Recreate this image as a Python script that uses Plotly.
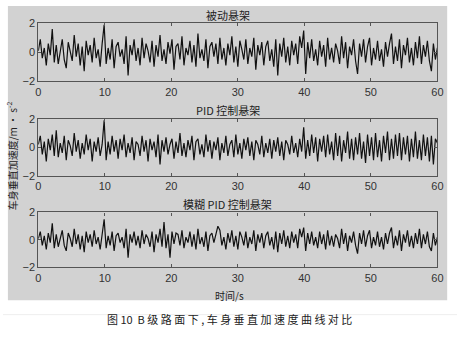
import plotly.graph_objects as go

t_step = 0.3
passive = [0.1, 0.9, -0.4, 0.3, -0.9, 0.6, -0.2, 1.6, -0.7, 0.5,
           -0.8, 0.2, 0.9, -0.5, -1.1, 0.7, 0.1, -0.6, 1.2, -0.3,
           0.6, -0.9, 0.4, -1.3, 0.8, -0.2, 0.5, -0.7, 1.0, -0.4,
           0.2, -1.0, 0.6, 1.9, -0.8, 0.3, -0.5, 0.9, -1.1, 0.4,
           0.7, -0.3, 0.2, -0.8, 1.1, -1.6, 0.5, -0.2, 0.9, -0.6,
           0.3, -0.9, 1.0, -0.4, 0.6, 0.1, -0.7, 0.8, -1.0, 0.5,
           -0.3, 1.2, -0.6, 0.2, -0.8, 0.7, -0.1, 0.9, -1.2, 0.4,
           0.6, -0.5, 1.1, -0.9, 0.3, -0.2, 0.8, -0.7, 0.5, -1.0,
           1.3, -0.4, 0.2, -0.6, 0.9, -1.1, 0.4, 0.7, -0.3, 0.6,
           -0.8, 1.0, -0.5, 0.3, -0.9, 0.6, -0.2, 1.1, -0.7, 0.4,
           -1.0, 0.8, 0.2, -0.5, 0.9, -0.8, 0.3, -0.3, 1.0, -1.2,
           0.5, -0.2, 0.7, -0.9, 0.4, 0.8, -0.6, 0.2, -1.0, 0.9,
           -1.6, 0.6, -0.3, 1.0, -0.7, 0.4, -0.9, 0.8, -0.2, 0.6,
           -0.8, 1.1, 0.3, 1.5, -1.5, 0.7, -0.4, 0.9, -0.6, 0.2,
           -0.9, 0.8, -0.3, 0.5, -1.0, 1.0, -0.5, 0.3, -0.7, 0.6,
           0.1, -0.8, 1.1, -0.4, 0.7, -1.1, 0.4, -0.2, 0.9, -0.6,
           -1.5, 0.6, -0.3, 0.9, -0.7, 0.4, 1.0, -0.9, 0.3, -0.5,
           0.8, -0.6, 0.2, -1.0, 0.7, -0.3, 0.6, 1.3, -0.8, 0.4,
           -0.6, 0.9, -1.1, 0.5, -0.2, 1.0, -0.7, 0.3, -0.9, 0.7,
           -0.4, 1.1, -0.8, 0.5, -0.3, 0.8, -0.6, -1.3, 0.6, -0.5,
           0.3]
pid = [0.2, 0.8, -0.5, 0.4, -1.0, 0.6, -0.2, 0.9, -0.6, 1.2,
       -0.7, 0.3, -0.4, 0.8, -0.9, 0.5, 0.1, -0.6, 1.0, -0.3,
       0.5, -0.8, 0.3, -0.5, 0.9, -0.2, 0.6, -1.0, 0.4, -0.3,
       0.7, -0.6, 0.2, 1.9, -0.9, 0.4, -0.5, 0.8, -0.3, 0.5,
       -0.8, 0.6, -0.2, 0.9, -0.7, 0.3, -0.4, 0.7, -0.9, 0.4,
       0.2, -0.6, 0.8, -0.3, 0.5, -1.0, 0.6, -0.2, 0.4, -0.7,
       0.9, -1.2, 0.5, -0.3, 0.7, -0.5, 0.2, 0.6, -0.8, 0.4,
       -0.4, 1.0, -0.6, 0.3, -0.7, 0.5, -0.2, 0.8, -0.9, 0.4,
       0.6, -0.5, 0.2, -0.7, 0.9, -0.3, 0.5, -0.8, 0.4, -0.2,
       0.7, -0.9, 0.3, -0.4, 0.8, -0.6, 0.2, 0.5, -0.7, 0.9,
       -0.5, 0.3, -0.8, 0.6, -0.2, 0.7, -0.6, 0.4, -0.9, 0.5,
       0.2, -0.5, 0.8, -0.7, 0.3, -0.4, 0.6, -0.8, 0.5, -0.3,
       0.7, -0.6, 0.4, -0.9, 0.5, 0.2, -0.5, 0.8, -0.4, 0.3,
       -0.7, 0.6, -0.3, 1.4, -0.8, 0.5, -0.6, 0.9, -0.4, 0.7,
       -1.0, 0.6, -0.3, 0.8, -0.7, 0.9, -0.5, 0.4, -0.9, 1.0,
       -0.6, 0.8, -1.0, 0.5, -0.4, 1.1, -0.8, 0.6, -0.9, 0.7,
       -0.5, 1.0, -0.8, 0.4, -1.1, 0.9, -0.6, 0.7, -0.9, 1.0,
       -0.7, 0.5, -1.0, 0.8, -0.4, 1.1, -0.9, 0.6, -0.8, 0.9,
       -0.6, 1.0, -0.9, 0.7, -0.5, 0.8, -1.0, 0.6, -0.7, 1.1,
       -0.8, 0.5, -0.9, 0.9, -0.6, 0.7, -1.0, 0.8, -1.2, 0.6,
       0.3]
fuzzy = [0.1, 0.6, -0.4, 0.3, -0.7, 0.5, -0.2, 1.2, -0.6, 0.4,
         -0.5, 0.2, 0.7, -0.4, -0.8, 0.5, 0.1, -0.5, 0.8, -0.3,
         0.4, -0.7, 0.3, -0.9, 0.6, -0.2, 0.4, -0.5, 0.7, -0.3,
         0.2, -0.7, 0.4, 1.5, -0.6, 0.3, -0.4, 0.6, -0.8, 0.3,
         0.5, -0.2, 0.2, -0.6, 0.8, -1.3, 0.4, -0.2, 0.6, -0.4,
         0.3, -0.6, 0.7, -0.3, 0.4, 0.1, -0.5, 0.6, -0.9, 0.4,
         -0.2, 0.8, -0.5, 1.3, -0.6, 0.4, -1.3, 0.6, -0.3, 0.5,
         0.4, -0.4, 0.7, -0.6, 0.2, -0.2, 0.6, -0.5, 0.4, -0.7,
         0.8, -0.3, 0.2, -0.5, 0.6, -0.8, 0.3, 0.5, -0.2, 0.4,
         1.0, 0.7, -0.4, 0.2, -0.7, 0.5, -0.2, 0.7, -0.5, 0.3,
         -0.7, 0.6, 0.2, -0.4, 0.6, -0.6, 0.2, -0.3, 0.7, -0.8,
         0.4, -0.2, 0.5, -0.6, 0.3, 0.6, -0.4, 0.2, -0.7, 0.6,
         -0.9, 0.5, -0.3, 0.7, -0.5, 0.3, -0.6, 0.6, -0.2, 0.4,
         -0.6, 0.8, 0.2, 0.9, -0.8, 0.5, -0.3, 0.6, -0.4, 0.2,
         -0.6, 0.6, -0.3, 0.4, -0.7, 0.7, -0.4, 0.3, -0.5, 0.4,
         0.1, -0.6, 0.8, -0.3, 0.5, -0.8, 0.3, -0.2, 0.6, -0.4,
         -1.0, 0.5, -0.3, 0.7, -0.5, 0.3, 0.7, -0.6, 0.2, -0.4,
         0.6, -0.5, 0.2, -0.7, 0.5, -0.3, 0.5, 0.9, -0.6, 0.3,
         -0.4, 0.7, -0.8, 0.4, -0.2, 0.7, -0.5, 0.3, -0.6, 0.5,
         -0.3, 0.8, -0.6, 0.4, -0.3, 0.6, -0.5, -0.8, 0.5, -0.4,
         0.2]
titles = ["被动悬架", "PID 控制悬架", "模糊 PID 控制悬架"]
x_ticks = [0, 10, 20, 30, 40, 50, 60]
y_ticks = [-2, 0, 2]
y_label = "车身垂直加速度/m · s<sup>-2</sup>"
x_label = "时间/s"
caption = "图 10  B 级 路 面 下 , 车 身 垂 直 加 速 度 曲 线 对 比"

W, H = 463, 338
def px(x): return x / W
def py(y): return 1 - y / H

panels = [(18, 78), (117, 176), (214, 271)]
series = [passive, pid, fuzzy]

fig = go.Figure()
layout = dict(width=W, height=H, margin=dict(l=0, r=0, t=0, b=0),
              paper_bgcolor="white", plot_bgcolor="white", showlegend=False)
CJK = "Noto Sans CJK SC"
annotations = []
for k, ((top, bot), ys) in enumerate(zip(panels, series)):
    t = [round(i * t_step, 2) for i in range(len(ys))]
    xa = "x" if k == 0 else f"x{k+1}"
    ya = "y" if k == 0 else f"y{k+1}"
    fig.add_trace(go.Scatter(x=t, y=ys, mode="lines", xaxis=xa, yaxis=ya,
                             line=dict(color="#111111", width=1.2)))
    axis_common = dict(showline=True, linecolor="#555555", linewidth=1.2, mirror="ticks",
                       ticks="inside", ticklen=3, tickcolor="#555555", showgrid=False,
                       zeroline=False, tickfont=dict(family="Liberation Sans", size=11, color="#333333"))
    layout["xaxis" if k == 0 else f"xaxis{k+1}"] = dict(
        domain=[px(36), px(443)], range=[0, 60], tickvals=x_ticks, anchor=ya, **axis_common)
    layout["yaxis" if k == 0 else f"yaxis{k+1}"] = dict(
        domain=[py(bot), py(top)], range=[-2, 2], tickvals=y_ticks, anchor=xa, **axis_common)
    annotations.append(dict(text=titles[k], x=px(229), y=py(top - 9), xref="paper", yref="paper",
                            xanchor="center", yanchor="middle", showarrow=False,
                            font=dict(family=CJK, size=11, color="#222222")))

annotations.append(dict(text=y_label, x=px(9), y=py(155), xref="paper", yref="paper",
                        xanchor="center", yanchor="middle", textangle=-90, showarrow=False,
                        font=dict(family=CJK, size=10, color="#222222")))
annotations.append(dict(text=x_label, x=px(231), y=py(300), xref="paper", yref="paper",
                        xanchor="center", yanchor="middle", showarrow=False,
                        font=dict(family=CJK, size=10, color="#222222")))
annotations.append(dict(text=caption, x=px(231), y=py(325), xref="paper", yref="paper",
                        xanchor="center", yanchor="middle", showarrow=False,
                        font=dict(family=CJK, size=11, color="#222222")))
layout["annotations"] = annotations
layout["shapes"] = [
    dict(type="rect", xref="paper", yref="paper", x0=px(5), x1=px(453), y0=py(305), y1=py(0),
         fillcolor="#d2d2d2", line=dict(width=0), layer="below"),
    dict(type="line", xref="paper", yref="paper", x0=0, x1=1, y0=py(320), y1=py(320),
         line=dict(color="#eeeeee", width=1), layer="below"),
]
fig.update_layout(**layout)
fig.write_html("out.html")
